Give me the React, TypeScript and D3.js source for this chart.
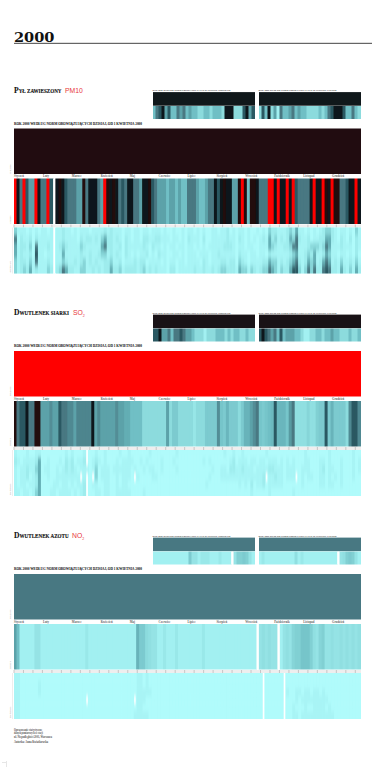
import React from "react";
import * as d3 from "d3";

// ---- values: pollution level per period, 0 (clean) .. 8 (over norm), 9 (far over norm); null = no measurement
const levelColors = ["#b0fbfb", "#a2f0f1", "#8cdbdd", "#70bfc5", "#5ca2a9", "#487882", "#2c5962", "#10181b", "#210c10", "#ff0000"];
const heatLevels = [0, 0.6, 1.2, 2.2, 3.6, 5, 6, 7];
const months = ["Styczeń", "Luty", "Marzec", "Kwiecień", "Maj", "Czerwiec", "Lipiec", "Sierpień", "Wrzesień", "Październik", "Listopad", "Grudzień"];
const dayTicks = [0, 10, 20, 30, 40, 50, 60, 70, 80, 90, 100, 110, 120, 130, 140, 150, 160, 170, 180, 190, 200, 210, 220, 230, 240, 250, 260, 270, 280, 290, 300, 310, 320, 330, 340, 350, 360];

const pmYear = [8];
const so2Year = [9];
const no2Year = [5];
const pmSmallYear = [7];
const so2SmallYear = [7.5];
const no2SmallYear = [5];

const pmStrip = [9,7,5,9,6,4,4,9,7,5, 5,9,6,null,7,8,7,6,5,5, 5,4,4,8,5,7,7,7,5,4, 9,8,7,8,7,5,6,5,7,7, 5,5,4,7,7,8,6,5,4,4, 4,3,4,4,3,4,3,3,
  5,5,5,4,3,3,4,5,5,7, 6,7,8,7,7,4,4,8,9,8, 3,8,8,7,5,5,5,9,9,7, 9,7,7,9,7,9,6,5,5,5, 5,7,9,7,7,9,8,7,9,8, 8,5,5,6,7,7,9,7];
const so2Strip = [8,5,6,6,7,5,5,8,8,4, 4,4,4.5,4,4,6,5,5,4.6,4.6, 4,4.7,4.7,4.7,4.7,4.7,7,4,4.6,4, 4,4,4,4,4.5,4,4,3.6,3.6,3, 3,3,3,2,2,2,2,2,2,2, 2,4,2,2.6,2.6,2,2,2,
  2,2,1.5,2,2,2,2.6,2.6,2.6,2.6, 4.5,2.8,2.6,3.3,2.6,2.6,2.6,2,2.6,3.4, 3.4,4,4.5,5,2.8,2.6,2.8,3,3.2,6, 3.3,3.3,3.3,2.8,4.2,5, 1.8,1.8,1.8,1.8, 2.2,1.8,1.8,2.4,2.6,2.6,6,2.6,3.4,2.6, 2.6,2.6,2.6,2,4.6,6,6,4.6];
const no2Strip = [4,3,1,1,1,1,1,1.6,1.6,1, 1,1,1,1,1,1,1,1,1,1, 1,1,1,1,1.4,1,1,1,1,1, 1,1,1,1,1,1,1,1,1,1, 1,3.4,2.6,2.6,2,1.8,1.6,1.6,1,1, 1.4,1,1,1,1.4,1,1,1,
  1,1,1,1,1,1.4,1,1,1,1, 1,1,1,1,1,1,1,1,1,1, 1,1,1,null,1.6,1.8,1.6,1.8,1.6,1.6, null,1,1.6,1.8,1.6,2.2,2.4,2.4,2.8,2.8, 2.8,2.4,1.8,1.6,2.2,2.4,1.6,1.6,1.8,1.6, 1.6,1.8,1.6,1.8,1.6,1.8,1.6,1.8];

const pmHeat = [
  "3111010101 101.112110 1011101111 2121110110 1101101110 1001001011 0101001101 1201011010 0101032211 1232411010 1012332101 101031",
  "5021120211 111.112111 1021221213 4221210210 1102211221 1101101021 1102001111 1211021010 1012142312 1243521120 1122442102 102021",
  "4122130511 121.123211 1132111114 5221120211 1112102110 1011011011 0101011111 2221011011 0011143211 2235511123 3323541112 111021",
  "4121120611 011.114111 1121121123 3121210210 1011201021 1001101011 1011101121 1111021101 1011021111 1123411232 4112431101 101020",
  "3122131511 121.113211 2123121211 2231120111 2122011110 1011011011 1102101112 2122032101 1112243312 1234521243 4124541213 112131",
  "3123241211 132.235422 1133112121 2242231222 2123121211 1022011111 2112112123 3222143313 2123354313 2246631353 5225652214 213142"
];
const so2Heat = [
  "1000100110 0000000101 0001.00100 1000010010 0000010000 0000100000 0000000000 1001001000 0000100000 0000000100 0000010000 000100",
  "2101111240 0100010212 0112.01210 1000101111 0010100001 0001000000 0001010000 0012011101 1011011101 0101000110 0011010001 000101",
  "1011211340 1100101212 1011101301 1101111110 1001011001 0000100000 0000001001 1022112111 0111122111 0111001110 0012011001 000101",
  "1011201240 0100111111 11.1.0.301 1100101110 .100001100 0000000000 0000010001 1111111111 1112.11211 0111.01011 0011010101 000100",
  "1011011240 0001101101 0112.01100 1100101100 0000000000 0000000000 0000100000 0000010102 0112011111 0000001000 0011011001 000000",
  "1101101340 0011011110 1012.00110 1100111110 0001000000 0000000000 0000000000 0000000001 0000010000 0001000000 0000000000 000000"
];
const no2Heat = [
  "1100000000 0000000000 0000000000 0000000000 0110100000 0000000000 0000000000 0000000000 000.000000 .000000000 0000000000 000000",
  "1100000010 0000000000 0000000000 0000000000 0110100000 0000000000 0000000000 0000000000 000.000000 .000000000 0000000000 000000",
  "1100000010 0000000000 0000000000 0000000000 0111110000 0000000000 0000000000 0000000000 000.000000 .100110110 1101000000 000000",
  "1100000000 0000000000 0000.00000 0000000000 .111000000 0000000000 0000000000 0000000000 000.000000 .000101111 1111100000 000000",
  "1100000000 0000000000 0000000000 0000000000 0110000000 0000000000 0000000000 0000000000 000.000000 .001000100 1111010000 000000",
  "1100000000 0000000000 0000000000 0000000000 1111100000 0000000000 0000000000 0000000000 000.000000 .001101111 1111111000 000000"
];

const pmWinter = [3,5,6,7,4,6,3,3,5,4, 5,3,4,3,3,2,2,3,3,2, 3,3,3,2,7,7,7,2,2,2, 6,7,4,6];
const pmSummer = [2,6,3,7,2,4,1,5,3,3, 4,5,3,4,3,3,2,2,2,2, 3,2,3,5,6,7,7,7,6,3, 3,5,3,2];
const so2Winter = [6,6,7,4,4,5,3,5,5,6, 5,4,4,3,2,2,2,1,2,2, 2,3,3,3,2,3,2,3,3,2, 2,3,2,2];
const so2Summer = [6,7,6,5,4,5,3,6,3,4, 4,4,3,3,2,1,1,2,2,3, 3,2,3,3,4,3,3,2,2,2, 3,2,2,3];
const no2Winter = [1,1,1,1,1,1,1,1,1,1, 1,1,2.6,1.6,1.6,1,1.4,1.4,1.4,1, 1,1,1.4,1,1,1,null,1.6,2.4,2.4, 2.6,2.4,1.6,1];
const no2Summer = [1,1.4,1,1,1,1,1,1,1,1, 1,1,1.8,1,1.4,1,1,1,1,1, 1,1,1,1,1,1,null,1.6,1.8,2.4, 2.6,2.4,1.6,1];

const captionYear = "ROK 2000 WEDŁUG NORM OBOWIĄZUJĄCYCH DZISIAJ, OD 1 KWIETNIA 2000";
const captionWinter = "ROK 2000 WEDŁUG NORM OBOWIĄZUJĄCYCH W SEZONIE ZIMOWYM";
const captionSummer = "ROK 2000 WEDŁUG NORM OBOWIĄZUJĄCYCH W SEZONIE LETNIM";
const footerLines = ["Opracowanie statystyczne", "danych pomiarowych ze stacji", "ul. Niepodległości 2001, Warszawa"];
const footerAuthor = "Autorka: Anna Kwiatkowska";

// ---- layout
const X0 = 14, W = 347;
const dayScale = d3.scaleLinear().domain([0, 366]).range([X0, X0 + W]);
const monthScale = d3.scaleBand<string>().domain(months).range([X0, X0 + W]);
const color = d3.scaleLinear<string>().domain(d3.range(levelColors.length)).range(levelColors).interpolate(d3.interpolateRgb);
const SERIF = "'Liberation Serif','DejaVu Serif',serif";

function Clip({ x, y, w, h, children }: any) {
  const id = "c" + React.useId().replace(/[^a-zA-Z0-9]/g, "");
  return (
    <g clipPath={`url(#${id})`}>
      <clipPath id={id}><rect x={x} y={y} width={w} height={h} /></clipPath>
      {children}
    </g>
  );
}

function Strip({ values, x, y, w, h }: any) {
  const sx = d3.scaleBand<number>().domain(d3.range(values.length)).range([x, x + w]);
  const bw = sx.bandwidth();
  return (
    <Clip x={x} y={y} w={w} h={h}>
      <g filter="url(#b1)">
        {values.map((v: number | null, i: number) =>
          v === null ? null : <rect key={i} x={sx(i)! - 0.5} y={y - 2} width={bw + 1} height={h + 4} fill={color(v)} />)}
      </g>
      {values.map((v: number | null, i: number) =>
        v === null ? <rect key={i} x={sx(i)! + bw * 0.1} y={y} width={bw * 0.6} height={h} fill="#fff" /> : null)}
    </Clip>
  );
}

function Heat({ rows, x, y, w, h }: any) {
  const parsed: string[] = rows.map((r: string) => r.replace(/ /g, ""));
  const cols = d3.max(parsed, (r) => r.length) as number;
  const sx = d3.scaleBand<number>().domain(d3.range(cols)).range([x, x + w]);
  const sy = d3.scaleBand<number>().domain(d3.range(parsed.length)).range([y, y + h]);
  const bw = sx.bandwidth();
  return (
    <Clip x={x} y={y} w={w} h={h}>
      <rect x={x} y={y} width={w} height={h} fill={levelColors[0]} />
      <g filter="url(#b2)">
        {parsed.map((r, j) => r.split("").map((c, i) => c === "." ? null : (
          <rect key={j + "-" + i} x={sx(i)} y={j === 0 ? y - 8 : sy(j)} width={bw + 0.3}
            height={sy.bandwidth() + (j === 0 || j === parsed.length - 1 ? 8.3 : 0.3)}
            fill={color(heatLevels[+c])} />
        )))}
        {parsed.map((r, j) => r.split("").map((c, i) => c === "." ? (
          <rect key={j + "w" + i} x={sx(i)! + bw * 0.15} y={j === 0 ? y - 8 : sy(j)} width={bw * 0.55}
            height={sy.bandwidth() + (j === 0 || j === parsed.length - 1 ? 8.3 : 0.3)} fill="#fff" />
        ) : null))}
      </g>
    </Clip>
  );
}

function SideLabel({ x, y, children }: any) {
  return <text transform={`translate(${x},${y}) rotate(-90)`} fontFamily={SERIF} fontSize={2.6} fill="#999">{children}</text>;
}

function Section({ top, yearLevel, smallLevel, strip, heat, winter, summer, initial, rest, restSize, chem, chemX, sub, capY, smallCapY }: any) {
  const yearY = top, stripY = top + 50, heatY = top + 99;
  const smallY = top - 36.4;
  const smallX = [153, 259];
  return (
    <g>
      <text x={X0} y={top - 36} fontFamily={SERIF} fontWeight={700} fill="#111" stroke="#111" strokeWidth={0.12}>
        <tspan fontSize={7.6}>{initial}</tspan><tspan fontSize={restSize}>{rest}</tspan>
      </text>
      <text x={chemX} y={top - 36} fontFamily="'Liberation Sans',sans-serif" fontSize={6.8} fill="#e8363a">
        {chem}{sub && <tspan dy={1.6} fontSize={3.6}>{sub}</tspan>}
      </text>
      <text x={X0} y={capY} fontFamily={SERIF} fontSize={3.2} fontWeight={700}
        textLength={128} lengthAdjust="spacingAndGlyphs" fill="#222" stroke="#222" strokeWidth={0.05}>{captionYear}</text>

      {smallX.map((sxx, k) => (
        <g key={k}>
          <text x={sxx - 0.5} y={smallCapY} fontFamily={SERIF} fontSize={2.5} fontWeight={700}
            textLength={78} lengthAdjust="spacingAndGlyphs" fill="#333">{k === 0 ? captionWinter : captionSummer}</text>
          <rect x={sxx} y={smallY} width={102} height={13.6} fill={color(smallLevel[0])} />
          <Strip values={k === 0 ? winter : summer} x={sxx} y={smallY + 13.8} w={102} h={13} />
        </g>
      ))}

      <rect x={X0} y={yearY} width={W} height={45.5} fill={color(yearLevel[0])} />
      {months.map((m) => (
        <text key={m} x={monthScale(m)} y={yearY + 48.6} fontFamily={SERIF} fontSize={3} fontWeight={700} fill="#666">{m}</text>
      ))}
      <Strip values={strip} x={X0} y={stripY} w={W} h={45.5} />
      <rect x={X0} y={stripY + 46} width={W} height={3} fill="#eeeeee" />
      {dayTicks.map((d) => (
        <line key={d} x1={dayScale(d)} x2={dayScale(d)} y1={stripY + 46} y2={stripY + 49} stroke="#b5b5b5" strokeWidth={0.7} />
      ))}
      <Heat rows={heat} x={X0} y={heatY} w={W} h={46} />
      <line x1={12.5} x2={12.5} y1={heatY} y2={heatY + 46} stroke="#ddd" strokeWidth={0.5} />
      <SideLabel x={10.5} y={yearY + 45}>rok 2000</SideLabel>
      <SideLabel x={10.5} y={stripY + 45}>dzienne</SideLabel>
      <SideLabel x={10.5} y={heatY + 45}>godzinowe</SideLabel>
    </g>
  );
}

export default function App() {
  return (
    <svg width={372} height={768} viewBox="0 0 372 768" style={{ position: "absolute", left: 0, top: 0, display: "block", background: "#fff" }}>
      <defs>
        <filter id="b1" x="-2%" y="-5%" width="104%" height="110%"><feGaussianBlur stdDeviation="0.6 0" /></filter>
        <filter id="b2" x="-2%" y="-20%" width="104%" height="140%"><feGaussianBlur stdDeviation="0.4 2.8" /></filter>
      </defs>
      <text x={14} y={42} fontFamily="'DejaVu Serif',serif" fontSize={13.5} fontWeight={700} textLength={40.5} lengthAdjust="spacingAndGlyphs" fill="#111">2000</text>
      <rect x={14} y={42.8} width={358} height={1.1} fill="#555" />

      <Section top={128.5} yearLevel={pmYear} smallLevel={pmSmallYear} strip={pmStrip} heat={pmHeat} winter={pmWinter} summer={pmSummer}
        initial="P" rest="YŁ ZAWIESZONY" restSize={5.1} chem="PM10" chemX={65} capY={125} smallCapY={91} />
      <Section top={351} yearLevel={so2Year} smallLevel={so2SmallYear} strip={so2Strip} heat={so2Heat} winter={so2Winter} summer={so2Summer}
        initial="D" rest="WUTLENEK SIARKI" restSize={5.1} chem="SO" sub="2" chemX={73} capY={347} smallCapY={313.7} />
      <Section top={574} yearLevel={no2Year} smallLevel={no2SmallYear} strip={no2Strip} heat={no2Heat} winter={no2Winter} summer={no2Summer}
        initial="D" rest="WUTLENEK AZOTU" restSize={5.1} chem="NO" sub="2" chemX={72} capY={570} smallCapY={536.5} />

      {footerLines.map((l, i) => (
        <text key={l} x={14} y={731 + i * 3.35} fontFamily={SERIF} fontSize={3.2} fontWeight={700} fill="#555" textLength={[28, 29, 38][i]} lengthAdjust="spacingAndGlyphs">{l}</text>
      ))}
      <text x={14} y={743.2} fontFamily={SERIF} fontSize={3.2} fontWeight={700} fill="#555" textLength={34} lengthAdjust="spacingAndGlyphs">{footerAuthor}</text>
      <line x1={2} x2={6} y1={762.5} y2={762.5} stroke="#ccc" strokeWidth={0.5} />
      <line x1={6.5} x2={6.5} y1={761} y2={767} stroke="#ccc" strokeWidth={0.5} />
    </svg>
  );
}
